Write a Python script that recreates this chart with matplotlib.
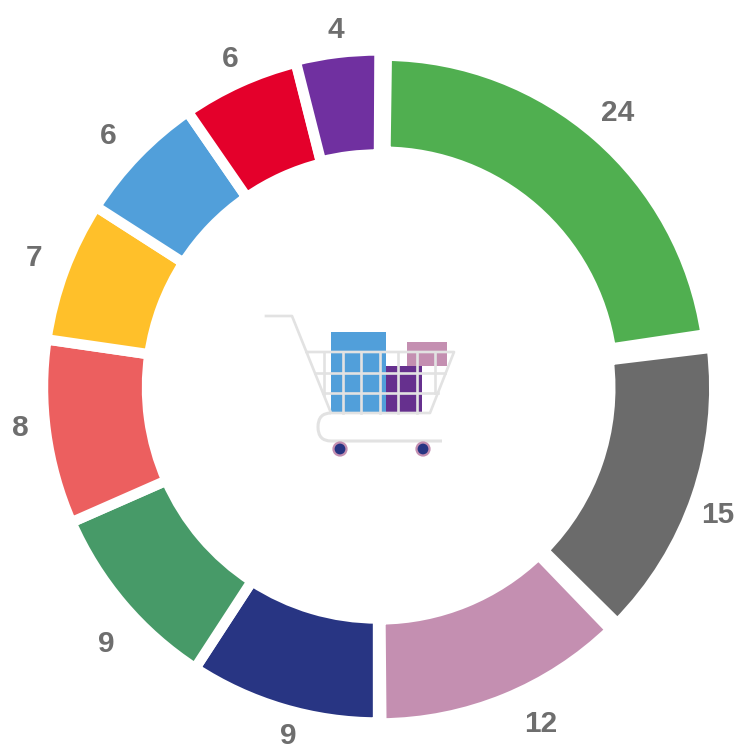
import matplotlib.pyplot as plt
from matplotlib.patches import Rectangle, Circle, PathPatch
from matplotlib.path import Path

sizes = [22.67, 14.86, 12.39, 9.19, 9.22, 8.89, 6.78, 6.31, 5.67, 4.03]
labels = ['24', '15', '12', '9', '9', '8', '7', '6', '6', '4']
colors = ['#50AF50', '#6B6B6B', '#C48FB1', '#283583', '#479A68',
          '#EC5F5F', '#FFC02A', '#519FDA', '#E4002B', '#7030A0']
explode = [0.019, 0.004, 0.003, 0, 0, 0, 0, 0, 0, 0.006]

W, H = 736, 748
fig = plt.figure(figsize=(W / 100, H / 100), dpi=100)
ax = fig.add_axes([0, 0, 1, 1])
ax.set_xlim(0, W)
ax.set_ylim(H, 0)
ax.axis('off')

# ring, outer radius a bit larger since the white edge eats into it
R = 338
cx, cy = 378, 387.5
pie_ax = fig.add_axes([(cx - R) / W, 1 - (cy + R) / H, 2 * R / W, 2 * R / H])
wedges, _ = pie_ax.pie(sizes, colors=colors, startangle=89.7, counterclock=False, radius=335 / R,
                       explode=explode,
                       wedgeprops=dict(width=104 / R, edgecolor='white', linewidth=7.5))
# green slice sits a little tighter than the rest
wedges[0].set_radius(327 / R)
wedges[0].set_width(96 / R)
# wider gaps around the grey and pink slices
wedges[0].set_theta1(wedges[0].theta1 + 0.4)
wedges[0].set_theta2(wedges[0].theta2 - 0.5)
wedges[1].set_theta2(wedges[1].theta2 - 1.2)
wedges[1].set_theta1(wedges[1].theta1 + 0.7)
wedges[2].set_theta2(wedges[2].theta2 - 0.7)
wedges[2].set_theta1(wedges[2].theta1 + 0.5)
pie_ax.set_xlim(-1, 1)
pie_ax.set_ylim(-1, 1)

# labels
label_pos = [(618, 113), (718, 515), (541, 724), (288, 735.5), (106, 644),
             (20, 428), (34, 258), (108, 136), (230, 59), (336, 30)]
for (x, y), t in zip(label_pos, labels):
    ax.text(x, y, t, ha='center', va='center', fontsize=21.5, fontweight='bold',
            color='#6E6E6E', family='Liberation Sans')

# cart icon
grey = '#E2E2E2'
lw = 1.9
ax.add_patch(Rectangle((331, 332), 55, 81, color='#519FDA', lw=0))
ax.add_patch(Rectangle((407, 342), 40, 24, color='#C48FB1', lw=0))
ax.add_patch(Rectangle((386, 366), 36, 47, color='#66308E', lw=0))
ax.plot([266, 292, 331, 430, 454, 307], [316, 316, 413, 413, 352, 352],
        color=grey, lw=lw, solid_joinstyle='round')
ax.plot([315, 445], [373, 373], color=grey, lw=lw)
ax.plot([323, 438], [393, 393], color=grey, lw=lw)
for x in [324, 343, 361, 380, 398, 417, 435]:
    y_end = 393 if x == 435 else (395 if x == 324 else 413)
    ax.plot([x, x], [352, y_end], color=grey, lw=lw)

# cart base with rounded left end
verts = [(331, 413), (318, 413), (318, 427), (318, 441), (331, 441), (442, 441)]
codes = [Path.MOVETO, Path.CURVE3, Path.CURVE3, Path.CURVE3, Path.CURVE3, Path.LINETO]
ax.add_patch(PathPatch(Path(verts, codes), fc='none', ec=grey, lw=lw + 0.3))
for x in [340, 423]:
    ax.add_patch(Circle((x, 449), 6.5, fc='#283583', ec='#C48FB1', lw=1.6, zorder=5))

fig.savefig('out.png', dpi=100)
